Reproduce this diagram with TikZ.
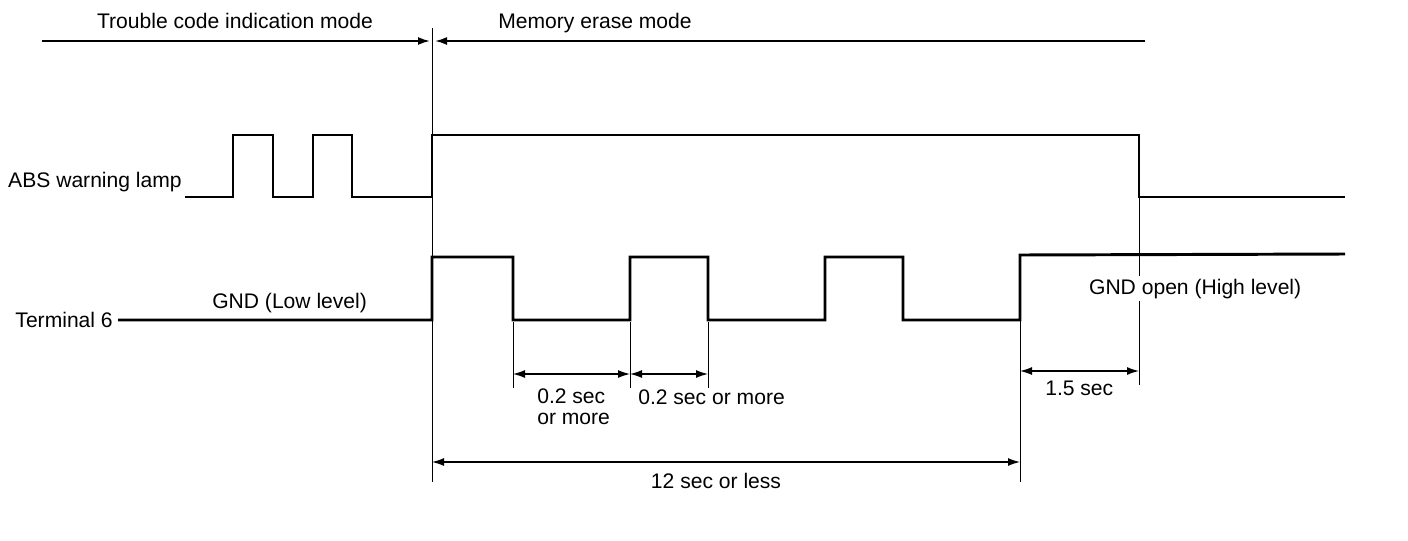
\documentclass[tikz,border=0pt]{standalone}
\usepackage{fontspec}
\setmainfont{Liberation Sans}
\usepackage{tikz}
\usetikzlibrary{arrows.meta}
\tikzset{>={Latex[length=3mm,width=2mm]}}

\begin{document}
\begin{tikzpicture}[x=0.25mm, y=-0.25mm,
    signal/.style={line width=2.1pt},
    dimline/.style={line width=0.9pt},
    extline/.style={line width=0.7pt},
    lbl/.style={inner sep=0pt, font=\fontsize{15}{14.5}\selectfont}]
    \useasboundingbox (0,0) rectangle (1408,540);

    % time marks
    \coordinate (t0) at (432,28);   \coordinate (t0b) at (432,482);
    \coordinate (f1) at (513,322);  \coordinate (f1b) at (513,388);
    \coordinate (r2) at (630,322);  \coordinate (r2b) at (630,388);
    \coordinate (f2) at (708,322);  \coordinate (f2b) at (708,388);
    \coordinate (r4) at (1020,257); \coordinate (r4b) at (1020,482);
    \coordinate (off) at (1139,197); \coordinate (offb) at (1139,385);

    % mode line
    \coordinate (modeL) at (42,41);
    \coordinate (modeA) at (430,41);
    \coordinate (modeB) at (435,41);
    \coordinate (modeR) at (1145,41);
    \draw[line width=1.3pt, ->] (modeL) -- (modeA);
    \draw[line width=1.3pt, ->] (modeR) -- (modeB);
    \node[lbl, anchor=base] (trouble) at (235,28) {Trouble code indication mode};
    \node[lbl, anchor=base] (erase) at (595,28) {Memory erase mode};

    % extension lines
    \draw[extline] (t0) -- (t0b);
    \draw[extline] (f1) -- (f1b);
    \draw[extline] (r2) -- (r2b);
    \draw[extline] (f2) -- (f2b);
    \draw[extline] (r4) -- (r4b);
    \draw[extline] (off) -- (offb);

    % signals
    \node[lbl, anchor=base east] (lamp) at (182,187) {ABS warning lamp};
    \draw[signal] (185,197) -| (233,135) -| (273,197) -| (313,135) -| (352,197)
        -| (432,135) -| (1139,197) -- (1345,197);
    \node[lbl, anchor=base east] (term) at (113,327) {Terminal 6};
    \draw[signal] (118,320) -| (432,257) -| (513,320) -| (630,257) -| (708,320)
        -| (825,257) -| (903,320) -| (1020,255) -- (1345,254);
    \node[lbl, anchor=base west] (gndlow) at (212,308) {GND (Low level)};
    \node[lbl, anchor=base west, fill=white, inner sep=2pt] (gndopen) at (1086,294) {GND open (High level)};

    % dimensions
    \coordinate (d1a) at (513,374); \coordinate (d1b) at (630,374);
    \coordinate (d2a) at (630,374); \coordinate (d2b) at (708,374);
    \coordinate (d3a) at (1020,371); \coordinate (d3b) at (1139,371);
    \coordinate (d4a) at (432,462); \coordinate (d4b) at (1020,462);
    \draw[dimline, <->] (d1a) -- (d1b);
    \draw[dimline, <->] (d2a) -- (d2b);
    \draw[dimline, <->] (d3a) -- (d3b);
    \draw[dimline, <->] (d4a) -- (d4b);
    \node[lbl, anchor=base west, align=left] (low1) at (537,424) {0.2 sec\\or more};
    \node[lbl, anchor=base west] (high1) at (638,404) {0.2 sec or more};
    \node[lbl, anchor=base west] (wait) at (1045,395) {1.5 sec};
    \node[lbl, anchor=base] (total) at (716,488) {12 sec or less};
\end{tikzpicture}
\end{document}
